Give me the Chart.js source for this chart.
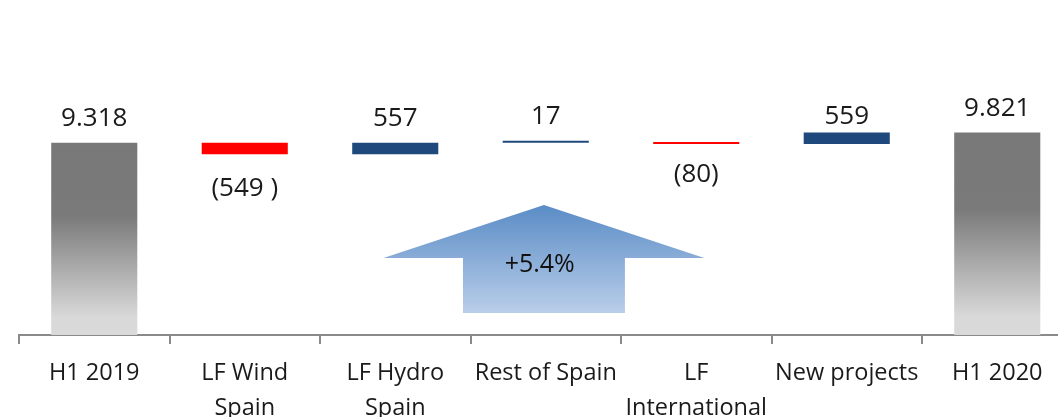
<!DOCTYPE html>
<html><head><meta charset="utf-8">
<script src="https://cdn.jsdelivr.net/npm/chart.js@4"></script>
<style>
html,body{margin:0;padding:0;overflow:hidden;background:#fff;width:1058px;height:417px}
#wrap{position:absolute;left:0;top:0;width:1076px;height:417px}
</style>
</head><body><div id="wrap"><canvas id="c"></canvas></div>
<script>
// ---- data ----
const categories = [["H1 2019"], ["LF Wind", "Spain"], ["LF Hydro", "Spain"], ["Rest of Spain"], ["LF", "International"], ["New projects"], ["H1 2020"]];
const startTotal = 9318;
const changes = [-549, 557, 17, -80, 559];
const endTotal = 9821;
const valueLabels = ["9.318", "(549 )", "557", "17", "(80)", "559", "9.821"];
const growthLabel = "+5.4%";
const yMax = 16000;

// ---- build floating ranges ----
const ranges = [[0, startTotal]];
let level = startTotal;
changes.forEach(d => { ranges.push([level, level + d]); level += d; });
ranges.push([0, endTotal]);
const kinds = ranges.map((r, i) => (i === 0 || i === ranges.length - 1) ? 'total' : (r[1] < r[0] ? 'neg' : 'pos'));

// ---- styles ----
const FONT = "'Open Sans', 'Noto Sans', sans-serif";
const labelStyle = { size: 26, above: 26, below: 31, nudge: {1: 2, 4: -2, 5: 8}, color: '#1a1a1a' };
const arrowShape = { index: 3, tipValue: 6300, wingValue: 3730, baseValue: 1070, wingHalf: 1.066, shaftHalf: 0.538, shift: -0.012, textShift: -0.04, textValue: 3490 };

function grayGrad(ctx) {
  const chart = ctx.chart;
  if (!chart.chartArea || !chart.scales.y) return '#808080';
  const y = chart.scales.y;
  const r = ranges[ctx.dataIndex];
  const top = y.getPixelForValue(r[1]);
  const bot = y.getPixelForValue(0);
  const g = chart.ctx.createLinearGradient(0, top, 0, bot);
  g.addColorStop(0, '#787878');
  g.addColorStop(0.38, '#7a7a7a');
  g.addColorStop(0.91, '#d9d9d9');
  g.addColorStop(1, '#d9d9d9');
  return g;
}

const valueLabelPlugin = {
  id: 'valueLabels',
  afterDatasetsDraw(chart) {
    const ctx = chart.ctx;
    const meta = chart.getDatasetMeta(0);
    ctx.save();
    ctx.font = labelStyle.size + 'px ' + FONT;
    ctx.fillStyle = labelStyle.color;
    ctx.textAlign = 'center';
    ctx.textBaseline = 'alphabetic';
    const capHalf = 0.357 * labelStyle.size;
    meta.data.forEach((el, i) => {
      const top = Math.min(el.y, el.base), bot = Math.max(el.y, el.base);
      const n = labelStyle.nudge[i] || 0;
      let cy;
      if (kinds[i] === 'neg') cy = bot + labelStyle.below + n;
      else cy = top - labelStyle.above + n;
      ctx.fillText(valueLabels[i], el.x, cy + capHalf);
    });
    ctx.restore();
  }
};

const arrowPlugin = {
  id: 'arrow',
  afterDatasetsDraw(chart) {
    const ctx = chart.ctx;
    const xs = chart.scales.x, ys = chart.scales.y;
    const cw = xs.getPixelForValue(1) - xs.getPixelForValue(0);
    const cx = xs.getPixelForValue(arrowShape.index) + arrowShape.shift * cw;
    const tipY = ys.getPixelForValue(arrowShape.tipValue);
    const wingY = ys.getPixelForValue(arrowShape.wingValue);
    const baseY = ys.getPixelForValue(arrowShape.baseValue);
    const wh = arrowShape.wingHalf * cw, sh = arrowShape.shaftHalf * cw;
    ctx.save();
    const g = ctx.createLinearGradient(0, tipY, 0, baseY);
    g.addColorStop(0, '#5a8cc6');
    g.addColorStop(1, '#b9cee9');
    ctx.fillStyle = g;
    ctx.beginPath();
    ctx.moveTo(cx, tipY);
    ctx.lineTo(cx + wh, wingY);
    ctx.lineTo(cx + sh, wingY);
    ctx.lineTo(cx + sh, baseY);
    ctx.lineTo(cx - sh, baseY);
    ctx.lineTo(cx - sh, wingY);
    ctx.lineTo(cx - wh, wingY);
    ctx.closePath();
    ctx.fill();
    ctx.font = '25px ' + FONT;
    ctx.fillStyle = '#111';
    ctx.textAlign = 'center';
    ctx.textBaseline = 'alphabetic';
    ctx.fillText(growthLabel, xs.getPixelForValue(arrowShape.index) + arrowShape.textShift * cw, ys.getPixelForValue(arrowShape.textValue) + 0.357 * 25);
    ctx.restore();
  }
};

new Chart(document.getElementById('c'), {
  type: 'bar',
  data: {
    labels: categories,
    datasets: [{
      data: ranges,
      backgroundColor: (ctx) => {
        const k = kinds[ctx.dataIndex];
        if (k === 'total') return grayGrad(ctx);
        return k === 'neg' ? '#ff0000' : '#1f497d';
      },
      borderWidth: 0,
      minBarLength: 2,
      barPercentage: 0.572,
      categoryPercentage: 1
    }]
  },
  options: {
    responsive: true,
    maintainAspectRatio: false,
    animation: false,
    layout: { padding: { left: 19, right: 3.5, top: 5, bottom: 0 } },
    plugins: { legend: { display: false }, tooltip: { enabled: false } },
    scales: {
      x: {
        grid: { display: true, drawOnChartArea: false, drawTicks: true, tickLength: 9, color: '#8a8a8a', lineWidth: 2, offset: true },
        border: { display: true, color: '#8a8a8a', width: 2 },
        ticks: { color: '#1a1a1a', font: { family: FONT, size: 23.5, lineHeight: 1.49 }, padding: 12, maxRotation: 0, autoSkip: false },
        afterFit(scale) { scale.height = 82; }
      },
      y: { display: false, min: 0, max: yMax }
    }
  },
  plugins: [arrowPlugin, valueLabelPlugin]
});
</script>
</body></html>
